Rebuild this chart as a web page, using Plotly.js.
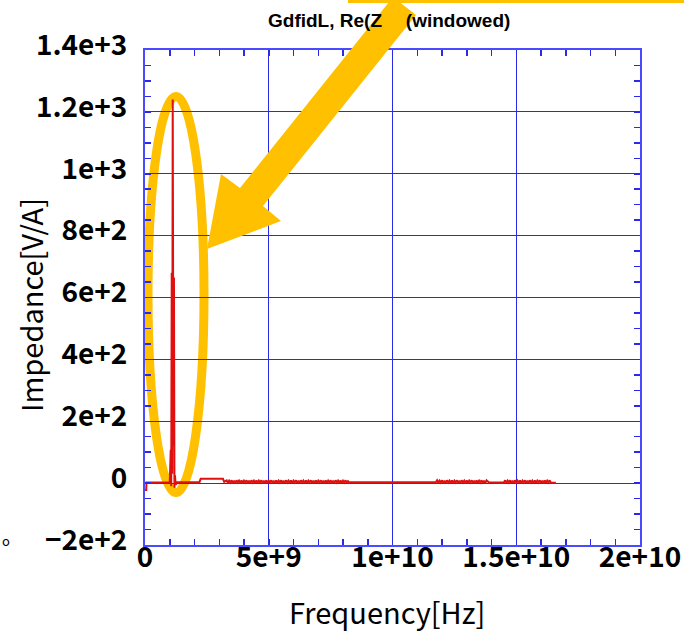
<!DOCTYPE html>
<html>
<head>
<meta charset="utf-8">
<script src="https://cdn.plot.ly/plotly-3.0.1.min.js"></script>
<style>html,body{margin:0;padding:0;background:#fff;}#chart{width:684px;height:632px;}</style>
</head>
<body>
<div id="chart"></div>
<script>
// ---- data (frequency in GHz, Re(Z) in V/A) ----
const freqGHz = [
  0, 0.05, 0.06, 1.00, 1.04, 1.06, 1.08, 1.10, 1.12, 1.15, 1.17, 1.19, 1.21, 1.24, 1.30,
  2.20, 2.25, 3.15, 3.20,
  3.30, 3.35, 3.40, 3.45, 3.50, 3.55, 3.60, 3.65, 3.70, 3.75,
  3.80, 3.85, 3.90, 3.95, 4.00, 4.05, 4.10, 4.15, 4.20, 4.25,
  4.30, 4.35, 4.40, 4.45, 4.50, 4.55, 4.60, 4.65, 4.70, 4.75,
  4.80, 4.85, 4.90, 4.95, 5.00, 5.05, 5.10, 5.15, 5.20, 5.25,
  5.30, 5.35, 5.40, 5.45, 5.50, 5.55, 5.60, 5.65, 5.70, 5.75,
  5.80, 5.85, 5.90, 5.95, 6.00, 6.05, 6.10, 6.15, 6.20, 6.25,
  6.30, 6.35, 6.40, 6.45, 6.50, 6.55, 6.60, 6.65, 6.70, 6.75,
  6.80, 6.85, 6.90, 6.95, 7.00, 7.05, 7.10, 7.15, 7.20, 7.25,
  7.30, 7.35, 7.40, 7.45, 7.50, 7.55, 7.60, 7.65, 7.70, 7.75,
  7.80, 7.85, 7.90, 7.95, 8.00, 8.05, 8.10, 8.15, 8.20, 8.25,
  8.30, 11.75,
  11.80, 11.85, 11.90, 11.95, 12.00, 12.05, 12.10, 12.15, 12.20, 12.25,
  12.30, 12.35, 12.40, 12.45, 12.50, 12.55, 12.60, 12.65, 12.70, 12.75,
  12.80, 12.85, 12.90, 12.95, 13.00, 13.05, 13.10, 13.15, 13.20, 13.25,
  13.30, 13.35, 13.40, 13.45, 13.50, 13.55, 13.60, 13.65, 13.70, 13.75,
  13.80,
  13.90, 14.50,
  14.55, 14.60, 14.65, 14.70, 14.75, 14.80, 14.85, 14.90, 14.95, 15.00,
  15.05, 15.10, 15.15, 15.20, 15.25, 15.30, 15.35, 15.40, 15.45, 15.50,
  15.55, 15.60, 15.65, 15.70, 15.75, 15.80, 15.85, 15.90, 15.95, 16.00,
  16.05, 16.10, 16.15, 16.20, 16.25, 16.30, 16.35, 16.40,
  16.50, 16.60
];
const reZ = [
  -22, -22, 2, 2, 108, -10, 680, 30, 1240, 120, 665, -15, 25, -5, 3,
  3, 14, 14, 4,
  9, 1, 8, 2, 9, 0, 8, 1, 9, 2,
  8, 1, 9, 0, 8, 2, 9, 1, 8, 1,
  9, 2, 8, 0, 9, 1, 8, 2, 9, 1,
  8, 0, 9, 1, 8, 2, 9, 1, 8, 0,
  9, 1, 8, 2, 9, 0, 8, 1, 9, 2,
  8, 1, 9, 0, 8, 2, 9, 1, 8, 1,
  9, 2, 8, 0, 9, 1, 8, 2, 9, 1,
  8, 0, 9, 1, 8, 2, 9, 1, 8, 0,
  9, 1, 8, 2, 9, 0, 8, 1, 9, 2,
  8, 1, 9, 0, 8, 2, 9, 1, 8, 1,
  3, 3,
  9, 1, 8, 2, 9, 0, 8, 1, 9, 2,
  8, 1, 9, 0, 8, 2, 9, 1, 8, 1,
  9, 2, 8, 0, 9, 1, 8, 2, 9, 1,
  8, 0, 9, 1, 8, 2, 9, 1, 8, 0,
  9,
  2, 2,
  9, 1, 8, 2, 9, 0, 8, 1, 9, 2,
  8, 1, 9, 0, 8, 2, 9, 1, 8, 1,
  9, 2, 8, 0, 9, 1, 8, 2, 9, 1,
  8, 0, 9, 1, 8, 2, 9, 1,
  2, 1
];
const xTickVals = [0, 5e9, 1e10, 1.5e10, 2e10];
const xTickText = ['0', '5e+9', '1e+10', '1.5e+10', '2e+10'];
const yTickVals = [-200, 0, 200, 400, 600, 800, 1000, 1200, 1400];
const yTickText = ['\u22122e+2', '0', '2e+2', '4e+2', '6e+2', '8e+2', '1e+3', '1.2e+3', '1.4e+3'];
const titleVisibleLeft = 'GdfidL, Re(Z';
const titleCovered = '<sub>\u2225</sub>)';
const titleVisibleRight = '(windowed)';
const xTitle = 'Frequency[Hz]';
const yTitle = 'Impedance[V/A]';
const edgeText = 'o';

// ---- layout geometry ----
const W = 684, H = 632;
const M = {l: 145, r: 44, t: 50, b: 87};
const PW = W - M.l - M.r, PH = H - M.t - M.b;
const px = x => (x - M.l) / PW;
const py = y => (H - M.b - y) / PH;

const ORANGE = '#FFC000';
const BLUE_LINE = '#4a4aff';
const BLUE_GRID = '#2a2ae6';

// the part of the title that lies under the orange arrow in the reference
const chartTitle = titleVisibleLeft + '<span style="color:' + ORANGE + '">' + titleCovered + '</span>&nbsp; ' + titleVisibleRight;

const arrowPts = [[207,249],[221,174],[240,188],[393,-3],[416,15],[263,206],[281,221]];
const arrowPath = 'M ' + arrowPts.map(p => px(p[0]).toFixed(5) + ',' + py(p[1]).toFixed(5)).join(' L ') + ' Z';

const CJK = '"Noto Sans CJK JP", "Noto Sans", sans-serif';
const tickFont = {family: CJK, size: 28, color: '#000', weight: 'bold'};
const axTitleFont = {family: CJK, size: 29, color: '#000'};

const trace = {
  x: freqGHz.map(v => v * 1e9),
  y: reZ,
  type: 'scatter',
  mode: 'lines',
  line: {color: '#e01010', width: 2},
  hoverinfo: 'skip'
};

const axisCommon = {
  showline: true, linecolor: BLUE_LINE, linewidth: 2, mirror: 'allticks',
  showgrid: true, gridcolor: BLUE_GRID, gridwidth: 1,
  zeroline: false,
  ticks: 'inside', ticklen: 6, tickwidth: 1.5, tickcolor: BLUE_GRID,
  tickmode: 'array', tickfont: tickFont,
  fixedrange: true
};

const layout = {
  width: W, height: H,
  margin: M,
  paper_bgcolor: '#fff', plot_bgcolor: '#fff',
  showlegend: false,
  title: {text: chartTitle, xref: 'paper', x: px(268), xanchor: 'left', y: 1 - 20 / H, yanchor: 'middle',
          font: {family: '"Liberation Sans", Arial, sans-serif', size: 19, color: '#000', weight: 'bold'}},
  xaxis: Object.assign({}, axisCommon, {
    range: [0, 2e10], tickvals: xTickVals, ticktext: xTickText,
    ticklabelstandoff: -14,
    minor: {tickmode: 'linear', tick0: 0, dtick: 1e9, ticks: 'inside', ticklen: 6, tickwidth: 1.5, tickcolor: BLUE_GRID, showgrid: false}
  }),
  yaxis: Object.assign({}, axisCommon, {
    range: [-200, 1400], tickvals: yTickVals, ticktext: yTickText,
    ticklabelstandoff: 10, ticklabelshift: -5,
    minor: {tickmode: 'linear', tick0: 0, dtick: 50, ticks: 'inside', ticklen: 6, tickwidth: 1.5, tickcolor: BLUE_GRID, showgrid: false}
  }),
  shapes: [
    {type: 'circle', xref: 'paper', yref: 'paper', layer: 'between',
     x0: px(148), x1: px(204), y0: py(492.5), y1: py(96.5),
     line: {color: ORANGE, width: 9}},
    {type: 'path', xref: 'paper', yref: 'paper', layer: 'above',
     path: arrowPath, fillcolor: ORANGE, line: {width: 0}},
    {type: 'rect', xref: 'paper', yref: 'paper', layer: 'above',
     x0: px(348), x1: px(700), y0: py(3), y1: py(-30),
     fillcolor: ORANGE, line: {width: 0}}
  ],
  annotations: [
    {text: xTitle, xref: 'paper', yref: 'paper', x: px(387), y: py(611), showarrow: false,
     xanchor: 'center', yanchor: 'middle', font: axTitleFont},
    {text: yTitle, xref: 'paper', yref: 'paper', x: px(30), y: py(305), showarrow: false, textangle: -90,
     xanchor: 'center', yanchor: 'middle', font: axTitleFont},
    {text: edgeText, xref: 'paper', yref: 'paper', x: px(6), y: py(540), showarrow: false,
     xanchor: 'center', yanchor: 'middle', font: {family: CJK, size: 13, color: '#000'}}
  ]
};

Plotly.newPlot('chart', [trace], layout, {staticPlot: true, displayModeBar: false});
</script>
</body>
</html>
